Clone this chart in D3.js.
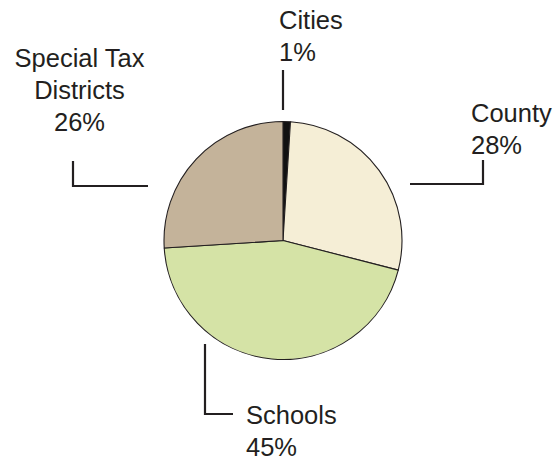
<!DOCTYPE html>
<html>
<head>
<meta charset="utf-8">
<script src="https://d3js.org/d3.v7.min.js"></script>
<style>
  body { margin: 0; background: #fff; }
  text { font-family: "Liberation Sans", Arial, Helvetica, sans-serif; fill: #231f20; }
</style>
</head>
<body>
<div id="chart"></div>
<script>

// data
var categories = ["Cities", "County", "Schools", "Special Tax Districts"];
var shares = [1, 28, 45, 26];
var labelLines = [["Cities"], ["County"], ["Schools"], ["Special Tax", "Districts"]];

var colors = ["#111111", "#f5eed6", "#d5e3a6", "#c4b39a"];

var width = 554, height = 461;
var cx = 283, cy = 240.5, radius = 119;
var fontSize = 25.5, lineGap = 32;

// where each label sits and how its leader line runs (layout only)
var layout = {
  "Cities":  {x: 279, y: 28.5, anchor: "start",
              line: [[283, 70], [283, 110]]},
  "County":  {x: 471, y: 121.5, anchor: "start",
              line: [[410, 184], [483, 184], [483, 160]]},
  "Schools": {x: 246, y: 424, anchor: "start",
              line: [[205, 344], [205, 414], [233, 414]]},
  "Special Tax Districts": {x: 79.5, y: 66.5, anchor: "middle",
              line: [[73, 161], [73, 186], [148, 186]]}
};

var svg = d3.select("#chart")
  .append("svg")
    .attr("width", width)
    .attr("height", height);

var data = categories.map(function(c, i) {
  return {name: c, value: shares[i], lines: labelLines[i], color: colors[i]};
});

var pie = d3.pie()
  .sort(null)
  .value(function(d) { return d.value; });

var arc = d3.arc()
  .innerRadius(0)
  .outerRadius(radius);

var g = svg.append("g")
  .attr("transform", "translate(" + cx + "," + cy + ")");

g.selectAll("path")
  .data(pie(data))
  .enter().append("path")
    .attr("d", arc)
    .attr("fill", function(d) { return d.data.color; })
    .attr("stroke", "#231f20")
    .attr("stroke-width", 1.1)
    .attr("stroke-linejoin", "round");

// leader lines
var line = d3.line();
svg.append("g")
  .selectAll("path")
  .data(data)
  .enter().append("path")
    .attr("d", function(d) { return line(layout[d.name].line); })
    .attr("fill", "none")
    .attr("stroke", "#231f20")
    .attr("stroke-width", 2.2);

// labels
data.forEach(function(d) {
  var L = layout[d.name];
  var t = svg.append("text")
    .attr("text-anchor", L.anchor)
    .style("font-size", fontSize + "px");
  var rows = d.lines.concat([d.value + "%"]);
  rows.forEach(function(r, i) {
    t.append("tspan")
      .attr("x", L.x)
      .attr("y", L.y + i * lineGap)
      .text(r);
  });
});

</script>
</body>
</html>
